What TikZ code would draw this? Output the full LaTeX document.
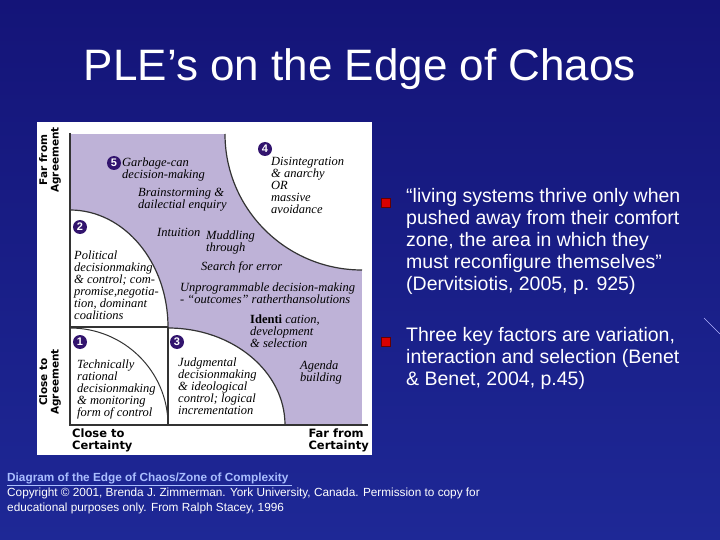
\documentclass[tikz,border=0pt]{standalone}
\usepackage{fontspec}
\setmainfont{Liberation Sans}
\newfontfamily\dser{Liberation Serif}
\newfontfamily\dsans{DejaVu Sans}
\begin{document}
\begin{tikzpicture}[x=1pt,y=-1pt,
  dtxt/.style={anchor=north west,align=left,inner sep=0pt,font=\dser\itshape\fontsize{12.5}{12}\selectfont,text=black},
  ax/.style={inner sep=0pt,font=\dsans\bfseries\fontsize{11.5}{12}\selectfont,text=black,align=left},
  num/.style={circle,fill=numc,text=white,inner sep=0pt,minimum size=14pt,font=\bfseries\fontsize{11}{11}\selectfont},
  btxt/.style={anchor=north west,align=left,inner sep=0pt,text=white,font=\fontsize{19.5}{22}\selectfont},
  bul/.style={fill=red!85!black,draw=red!40!black,minimum size=9pt,inner sep=0pt}]
\definecolor{bgtop}{RGB}{20,20,120}
\definecolor{bgbot}{RGB}{30,40,150}
\definecolor{purp}{RGB}{190,178,215}
\definecolor{numc}{RGB}{50,20,110}
\definecolor{linkc}{RGB}{170,190,255}
\shade[top color=bgtop,bottom color=bgbot] (0,0) rectangle (720,540);
\useasboundingbox (0,0) rectangle (720,540);
\node[text=white,font=\fontsize{44}{48}\selectfont] (title) at (360,69) {PLE’s on the Edge of Chaos};
% diagram
\fill[white] (37,122) rectangle (372,455);
\fill[purp] (70,134) rectangle (362,425);
\fill[white] (225,134) arc[start angle=180,end angle=270,x radius=137,y radius=-136] -- (362,134) -- cycle;
\fill[white] (70,210) arc[start angle=90,end angle=0,x radius=98,y radius=-117] -- (70,327) -- cycle;
\fill[white] (70,327) rectangle (168,425);
\fill[white] (168,328) arc[start angle=90,end angle=0,x radius=117,y radius=-97] -- (168,425) -- cycle;
\draw[line width=1.2pt,black!80] (225,134) arc[start angle=180,end angle=270,x radius=137,y radius=-136];
\draw[line width=1.2pt,black!80] (70,210) arc[start angle=90,end angle=0,x radius=98,y radius=-117];
\draw[line width=1.2pt,black!80] (168,328) arc[start angle=90,end angle=0,x radius=117,y radius=-97];
\draw[line width=1pt,black!80] (70,328) arc[start angle=90,end angle=0,x radius=98,y radius=-97];
\draw[line width=1.2pt,black!80] (70,327) -- (168,327) (168,327) -- (168,425);
\draw[line width=1.5pt,black!80] (70,133) -- (70,425) -- (368,425);
\node[ax,rotate=90,align=center,font=\dsans\bfseries\fontsize{10.5}{11.5}\selectfont] (fa) at (50,160) {Far from\\Agreement};
\node[ax,rotate=90,align=center,font=\dsans\bfseries\fontsize{10.5}{11.5}\selectfont] (ca) at (50,382) {Close to\\Agreement};
\node[ax,anchor=north west] (cc) at (72,429) {Close to\\Certainty};
\node[ax,anchor=north east] (fc) at (369,429) {Far from\\Certainty};
\node[num] (n5) at (114,163) {5};
\node[num] (n4) at (265,149) {4};
\node[num] (n2) at (80,227) {2};
\node[num] (n1) at (80,342) {1};
\node[num] (n3) at (177,342) {3};
\node[dtxt] (t5) at (122,158) {Garbage-can\\decision-making};
\node[dtxt] (tb) at (138,188) {Brainstorming \&\\dailectial enquiry};
\node[dtxt] (t4) at (271,157) {Disintegration\\\& anarchy\\OR\\massive\\avoidance};
\node[dtxt] (t2) at (74,251) {Political\\decisionmaking\\\& control; com-\\promise,negotia-\\tion, dominant\\coalitions};
\node[dtxt] (ti) at (157,228) {Intuition};
\node[dtxt] (tm) at (206,231) {Muddling\\through};
\node[dtxt] (ts) at (201,261) {Search for error};
\node[dtxt] (tu) at (180,283) {Unprogrammable decision-making\\- “outcomes” ratherthansolutions};
\node[dtxt] (tid) at (250,315) {\upshape\bfseries Identi\normalfont\dser\itshape\ cation,\\development\\\& selection};
\node[dtxt] (tag) at (300,361) {Agenda\\building};
\node[dtxt] (t1) at (77,360) {Technically\\rational\\decisionmaking\\\& monitoring\\form of control};
\node[dtxt] (t3) at (178,358) {Judgmental\\decisionmaking\\\& ideological\\control; logical\\incrementation};
% bullets
\node[bul] (b1) at (386,203) {};
\node[btxt] (bt1) at (406,188) {“living systems thrive only when\\pushed away from their comfort\\zone, the area in which they\\must reconfigure themselves”\\(Dervitsiotis, 2005, p. 925)};
\node[bul] (b2) at (386,342) {};
\node[btxt] (bt2) at (406,327) {Three key factors are variation,\\interaction and selection (Benet\\\& Benet, 2004, p.45)};
% footer
\node[anchor=west,inner sep=0pt,text=linkc,font=\bfseries\fontsize{11.8}{12}\selectfont] (link) at (7,479) {\underline{Diagram of the Edge of Chaos/Zone of Complexity\ }};
\node[anchor=north west,inner sep=0pt,text=white,align=left,font=\fontsize{11.8}{14.5}\selectfont] (copy) at (7,488) {Copyright © 2001, Brenda J. Zimmerman. York University, Canada. Permission to copy for\\educational purposes only. From Ralph Stacey, 1996};
\coordinate (d1) at (704,318);
\coordinate (d2) at (720,334);
\draw[white!70!blue,line width=0.6pt] (d1) -- (d2);
\end{tikzpicture}
\end{document}
